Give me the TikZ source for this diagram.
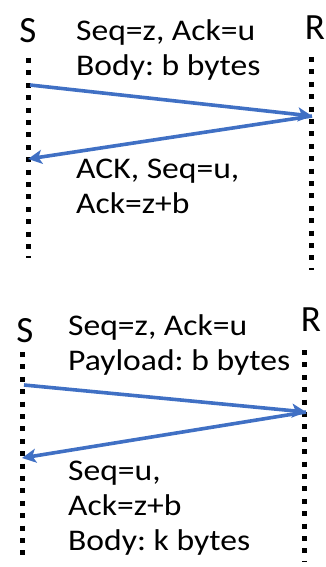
\documentclass[tikz,border=0pt]{standalone}
\usepackage{fontspec}
\setmainfont{Carlito}
\newfontfamily\msgfamily[FakeStretch=1.12]{Carlito}
\usepackage{tikz}
\usetikzlibrary{arrows.meta, positioning}
\definecolor{msgblue}{RGB}{64, 112, 196}
\frenchspacing
\tikzset{
  lifeline/.style={line width=5pt, dash pattern=on 5pt off 7.4pt},
  msgarrow/.style={msgblue, line width=3.6pt, -{Stealth[length=14pt, width=14pt, inset=3.5pt]}},
  msgtext/.style={anchor=north west, align=left, inner sep=0pt, font=\msgfamily\fontsize{30}{35}\selectfont},
  party/.style={inner sep=0pt, font=\fontsize{37}{42}\selectfont}
}
\begin{document}
\begin{tikzpicture}[x=1pt, y=-1pt]
    \useasboundingbox (0,0) rectangle (326,567);

    % Upper exchange
    \node[party] (sTop) at (28,31) {S};
    \node[party] (rTop) at (315,28) {R};
    \coordinate (sTopA) at (28,58);  \coordinate (sTopZ) at (28,258);
    \coordinate (rTopA) at (311,57); \coordinate (rTopZ) at (311,270);
    \draw[lifeline] (sTopA) -- (sTopZ);
    \draw[lifeline] (rTopA) -- (rTopZ);
    \coordinate (sTopOut) at (30,85);
    \coordinate (rTopIn) at (312,116);
    \coordinate (sTopIn) at (28,159);
    \draw[msgarrow] (sTopOut) -- (rTopIn);
    \draw[msgarrow] (rTopIn) -- (sTopIn);
    \node[msgtext] (reqTop) at (76,19) {Seq=z, Ack=u\\Body: b bytes};
    \node[msgtext] (ackTop) at (76,159) {ACK, Seq=u,\\Ack=z+b};

    % Lower exchange
    \node[party] (sBot) at (25,331) {S};
    \node[party] (rBot) at (311,320) {R};
    \coordinate (sBotA) at (22,352); \coordinate (sBotZ) at (22,557);
    \coordinate (rBotA) at (304,350); \coordinate (rBotZ) at (304,562);
    \draw[lifeline] (sBotA) -- (sBotZ);
    \draw[lifeline] (rBotA) -- (rBotZ);
    \coordinate (sBotOut) at (24,385);
    \coordinate (rBotIn) at (306,412);
    \coordinate (sBotIn) at (22,458);
    \draw[msgarrow] (sBotOut) -- (rBotIn);
    \draw[msgarrow] (rBotIn) -- (sBotIn);
    \node[msgtext] (reqBot) at (68,314) {Seq=z, Ack=u\\Payload: b bytes};
    \node[msgtext] (ackBot) at (68,461) {Seq=u,\\Ack=z+b\\Body: k bytes};
\end{tikzpicture}
\end{document}
